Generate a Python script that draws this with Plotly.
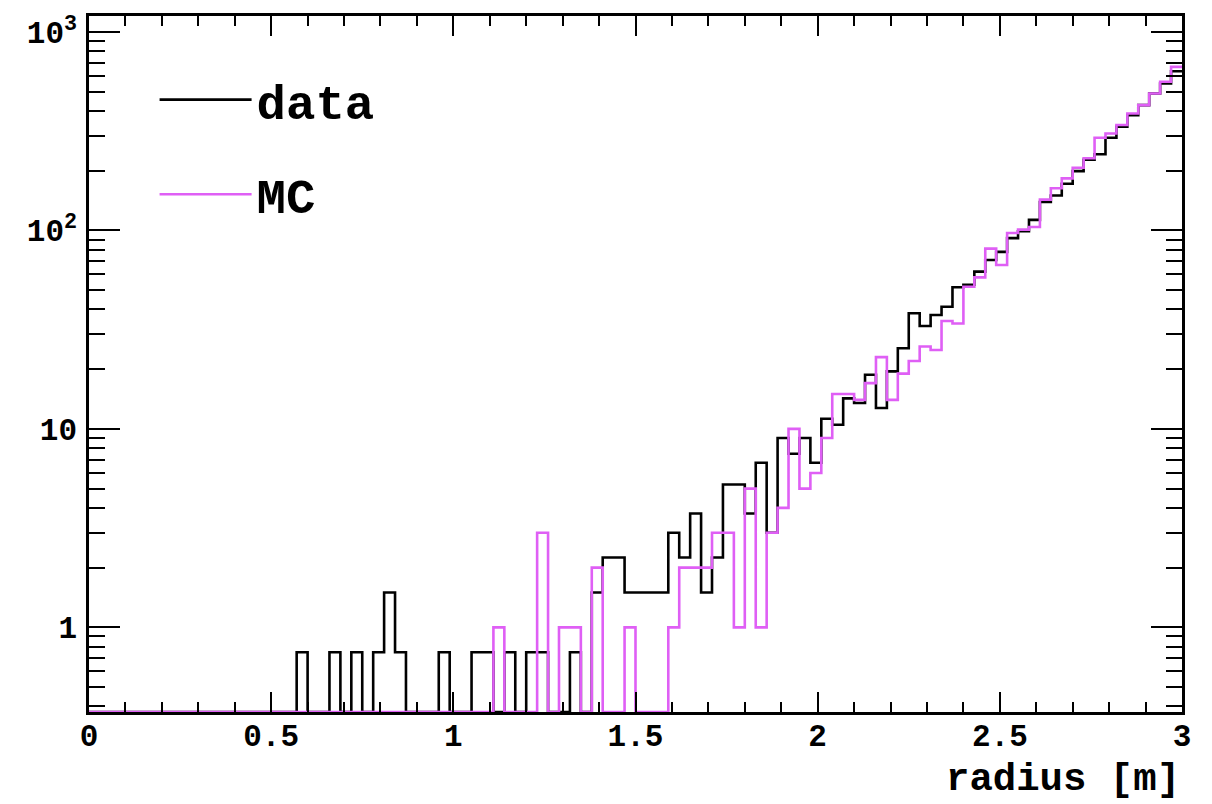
import numpy as np
import plotly.graph_objects as go

# ---- data (100 bins of 0.03 m from 0 to 3 m) ----
bin_lo = 0.0
bin_hi = 3.0
n_bins = 100

data_counts = [
    0, 0, 0, 0, 0, 0, 0, 0, 0, 0,
    0, 0, 0, 0, 0, 0, 0, 0, 0, 0.75,
    0, 0, 0.75, 0, 0.75, 0, 0.75, 1.5, 0.75, 0,
    0, 0, 0.75, 0, 0, 0.75, 0.75, 0, 0.75, 0,
    0.75, 0.75, 0, 0, 0.75, 0, 1.5, 2.25, 2.25, 1.5,
    1.5, 1.5, 1.5, 3, 2.25, 3.75, 1.5, 2.25, 5.25, 5.25,
    3.75, 6.75, 3, 9, 7.5, 9, 6.75, 11.25, 10.5, 14.25,
    13.5, 18.75, 12.75, 19.5, 25.5, 38.25, 33, 37.5, 41.25, 51.75,
    53.25, 62, 71, 78, 91.5, 99, 113, 139, 150, 172,
    199, 227, 242, 293, 333, 381, 428, 490, 550, 634,
]

mc_counts = [
    0, 0, 0, 0, 0, 0, 0, 0, 0, 0,
    0, 0, 0, 0, 0, 0, 0, 0, 0, 0,
    0, 0, 0, 0, 0, 0, 0, 0, 0, 0,
    0, 0, 0, 0, 0, 0, 0, 1, 0, 0,
    0, 3, 0, 1, 1, 0, 2, 0, 0, 1,
    0, 0, 0, 1, 2, 2, 2, 3, 3, 1,
    5, 1, 3, 4, 10, 5, 6, 9, 15, 15,
    14, 17, 23, 14, 19, 22, 26, 25, 35, 34,
    52, 58, 81, 67, 97, 101, 104, 143, 163, 183,
    207, 231, 293, 308, 340, 388, 428, 490, 561, 667,
]

y_tick_vals = [1, 10, 100, 1000]
y_tick_text = ["1", "10", "10<sup>2</sup>", "10<sup>3</sup>"]

# ---- styles ----
FONT = "Liberation Mono"
DATA_COLOR = "#000000"
MC_COLOR = "#df5ff5"
y_log_range = [-0.4263, 3.0804]
y_floor = 10 ** y_log_range[0]

edges = np.linspace(bin_lo, bin_hi, n_bins + 1)


def step_xy(counts):
    vals = np.maximum(np.asarray(counts, dtype=float), y_floor)
    xs = list(edges)
    ys = list(vals) + [vals[-1]]
    return xs, ys


fig = go.Figure()
for name, counts, color, grp in [("data", data_counts, DATA_COLOR, "g1"),
                                  ("MC", mc_counts, MC_COLOR, "g2")]:
    xs, ys = step_xy(counts)
    fig.add_trace(go.Scatter(
        x=xs, y=ys, mode="lines", name=name, legendgroup=grp,
        line=dict(color=color, width=2.6, shape="hv"),
    ))

minor_vals = [m * 10 ** d for d in range(-1, 4) for m in range(2, 10)]

fig.update_layout(
    width=1212, height=804,
    margin=dict(l=89, r=30, t=14, b=92),
    paper_bgcolor="white", plot_bgcolor="white",
    font=dict(family=FONT, size=31, color="black", weight="bold"),
    showlegend=True,
    legend=dict(
        x=0.06, y=0.935, xanchor="left", yanchor="top",
        bgcolor="rgba(0,0,0,0)", borderwidth=0,
        font=dict(family=FONT, size=49, color="black", weight="bold"),
        itemwidth=92, tracegroupgap=28,
    ),
    xaxis=dict(
        range=[bin_lo, bin_hi], showgrid=False, zeroline=False,
        showline=True, linecolor="black", linewidth=2.5, mirror="allticks",
        ticks="inside", ticklen=20, tickwidth=2, tickcolor="black",
        dtick=0.5, tick0=0,
        minor=dict(ticks="inside", ticklen=10, tickwidth=2, tickcolor="black", dtick=0.1, showgrid=False),
        tickfont=dict(family=FONT, size=31, color="black", weight="bold"),
        ticklabelstandoff=-6,
    ),
    yaxis=dict(
        type="log", range=y_log_range, showgrid=False, zeroline=False,
        showline=True, linecolor="black", linewidth=2.5, mirror="allticks",
        ticks="inside", ticklen=31, tickwidth=2, tickcolor="black",
        tickvals=y_tick_vals, ticktext=y_tick_text,
        minor=dict(ticks="inside", ticklen=16, tickwidth=2, tickcolor="black", tickvals=minor_vals, showgrid=False),
        tickfont=dict(family=FONT, size=31, color="black", weight="bold"),
        ticklabelstandoff=3,
    ),
)

fig.add_annotation(
    text="radius [m]", xref="paper", yref="paper", x=1.0, y=-0.097,
    xanchor="right", yanchor="middle", showarrow=False,
    font=dict(family=FONT, size=39, color="black", weight="bold"),
)

fig.write_html("out.html")
